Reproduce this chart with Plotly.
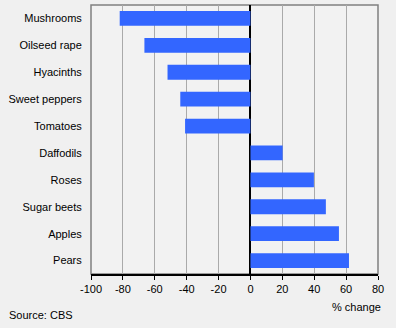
import plotly.graph_objects as go

categories = ["Mushrooms", "Oilseed rape", "Hyacinths", "Sweet peppers", "Tomatoes",
              "Daffodils", "Roses", "Sugar beets", "Apples", "Pears"]
values = [-82, -66.5, -52, -44, -41, 20.2, 39.8, 47.3, 55.5, 61.8]
tick_vals = [-100, -80, -60, -40, -20, 0, 20, 40, 60, 80]

font = dict(family="Liberation Sans, Arial, sans-serif", size=11, color="#000000")

fig = go.Figure(go.Bar(
    x=values, y=categories, orientation="h",
    marker=dict(color="#3366ff", line=dict(width=0)),
    hoverinfo="skip",
))

fig.update_layout(
    width=396, height=328,
    margin=dict(l=91, r=18, t=5, b=54, pad=0),
    paper_bgcolor="#f0f0f0",
    plot_bgcolor="#f2f2f2",
    font=font,
    bargap=0.45,
    showlegend=False,
    xaxis=dict(
        range=[-100, 80], tickvals=tick_vals, ticktext=[str(v) for v in tick_vals],
        showgrid=True, gridcolor="#aaaaaa", gridwidth=1,
        zeroline=True, zerolinecolor="#000000", zerolinewidth=1.5,
        showline=True, linecolor="#000000", linewidth=1.5,
        ticks="outside", ticklen=4, tickcolor="#000000", tickwidth=1,
        tickfont=font,
    ),
    yaxis=dict(
        categoryorder="array", categoryarray=categories[::-1],
        range=[-0.5, 9.5],
        showgrid=False, zeroline=False, showline=False,
        ticks="outside", ticklen=6, tickcolor="rgba(0,0,0,0)",
        tickfont=font,
    ),
    shapes=[dict(type="rect", xref="paper", yref="paper", x0=0, x1=1, y0=0, y1=1,
                 line=dict(color="#808080", width=1.5), layer="below")],
    annotations=[
        dict(text="% change", xref="paper", yref="paper", x=1, y=0,
             xanchor="right", yanchor="middle", xshift=5, yshift=-33,
             showarrow=False, font=font),
        dict(text="Source: CBS", xref="paper", yref="paper", x=0, y=0,
             xanchor="left", yanchor="middle", xshift=-84, yshift=-41,
             showarrow=False, font=font),
    ],
)

fig.write_html("out.html")
